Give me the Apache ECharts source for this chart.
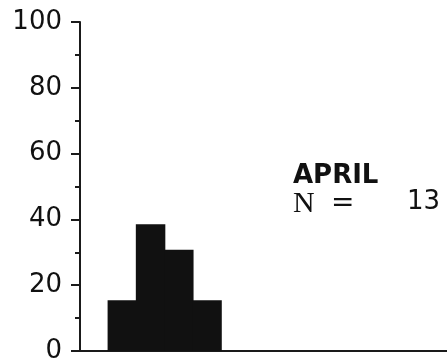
<!DOCTYPE html>
<html>
<head>
<meta charset="utf-8">
<script src="https://cdn.jsdelivr.net/npm/echarts@6/dist/echarts.min.js"></script>
<style>
html,body{margin:0;padding:0;background:#fff;}
#c{width:447px;height:364px;}
</style>
</head>
<body>
<div id="c"></div>
<script>
// histogram bins (no axis labels in the original)
const bins = ['b0','b1','b2','b3','b4','b5','b6','b7','b8','b9','b10','b11','b12'];
// percent of observations in each bin (N = 13)
const percents = [0, 15.4, 38.5, 30.8, 15.4, 0, 0, 0, 0, 0, 0, 0, 0];
const yTicks = [0, 20, 40, 60, 80, 100];
const monthLabel = 'APRIL';
const nLetter = 'N';
const eqSign = '=';
const nValue = '13';

const chart = echarts.init(document.getElementById('c'), null, {renderer: 'canvas'});
chart.setOption({
  animation: false,
  backgroundColor: '#fff',
  grid: {left: 80, right: 0, top: 22, bottom: 11, containLabel: false},
  xAxis: {
    type: 'category',
    data: bins,
    boundaryGap: true,
    axisLine: {lineStyle: {color: '#1a1a1a', width: 2}},
    axisTick: {show: false},
    axisLabel: {show: false},
    splitLine: {show: false}
  },
  yAxis: {
    type: 'value',
    min: yTicks[0],
    max: yTicks[yTicks.length - 1],
    interval: 20,
    axisLine: {show: true, lineStyle: {color: '#1a1a1a', width: 2}},
    axisTick: {show: true, length: 9, lineStyle: {color: '#1a1a1a', width: 2}},
    minorTick: {show: true, splitNumber: 2, length: 5, lineStyle: {color: '#1a1a1a', width: 2}},
    axisLabel: {
      margin: 18,
      color: '#111',
      fontFamily: 'DejaVu Sans',
      fontSize: 26
    },
    splitLine: {show: false}
  },
  series: [{
    type: 'bar',
    data: percents,
    barWidth: 29.5,
    itemStyle: {color: '#111'}
  }],
  graphic: [
    {type: 'text', left: 293, top: 163,
     style: {text: monthLabel, font: 'bold 26px "DejaVu Sans"', fill: '#111'}},
    {type: 'text', left: 293, top: 189,
     style: {text: nLetter, font: '30px "Liberation Serif"', fill: '#111'}},
    {type: 'text', left: 331, top: 190,
     style: {text: eqSign, font: '28px "DejaVu Sans"', fill: '#111'}},
    {type: 'text', left: 407, top: 189,
     style: {text: nValue, font: '26px "DejaVu Sans"', fill: '#111'}}
  ]
});
</script>
</body>
</html>
